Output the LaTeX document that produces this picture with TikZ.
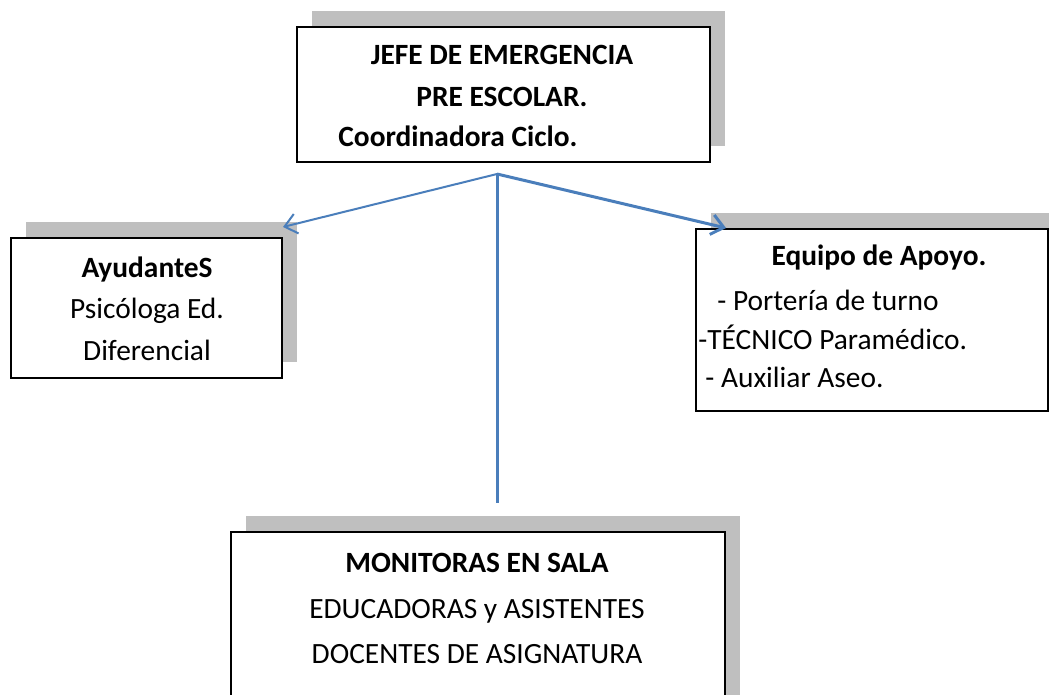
\documentclass[tikz,border=0pt]{standalone}
\usepackage{fontspec}
\setmainfont{Carlito}
\usepackage{tikz}
\usetikzlibrary{arrows.meta,positioning,calc,shadows}
\definecolor{myBlue}{RGB}{74,126,187}
\definecolor{myGray}{RGB}{191,191,191}
\tikzset{
	cbox/.style={
		draw=black,
		fill=white,
		line width=1pt,
		inner sep=0pt,
		drop shadow={shadow xshift=7.5pt, shadow yshift=8pt, fill=myGray, opacity=1}
	},
	ctxt/.style={font=\fontsize{14.7}{17}\selectfont, inner sep=0pt, anchor=base},
	carr/.style={-{Straight Barb[length=6pt, width=10pt]}, myBlue}
}

\begin{document}
\begin{tikzpicture}[x=0.5pt, y=-0.5pt]
		\useasboundingbox (0,0) rectangle (1049,695);
		% cajas
		\node[cbox, minimum width=206.5pt, minimum height=67.5pt] (jefe) at (503.5,94.5) {};
		\node[cbox, minimum width=135.5pt, minimum height=70pt] (ayud) at (146.5,308) {};
		\node[cbox, minimum width=176pt, minimum height=91pt] (equipo) at (872,320) {};
		\node[cbox, minimum width=247pt, minimum height=94pt] (monit) at (478,626) {};
		% textos
		\node[ctxt] (jefeA) at (502,65) {\bfseries JEFE DE EMERGENCIA};
		\node[ctxt] (jefeB) at (502,107) {\bfseries PRE ESCOLAR.};
		\node[ctxt, anchor=base west] (jefeC) at (338,147) {\bfseries Coordinadora Ciclo.};
		\node[ctxt] (ayudA) at (147,278) {\bfseries AyudanteS};
		\node[ctxt] (ayudB) at (147,318) {Psicóloga Ed.};
		\node[ctxt] (ayudC) at (147,360) {Diferencial};
		\node[ctxt] (equipoA) at (879,265) {\bfseries Equipo de Apoyo.};
		\node[ctxt, anchor=base west] (equipoB) at (717,310) {- Portería de turno};
		\node[ctxt, anchor=base west] (equipoC) at (698,350) {-TÉCNICO Paramédico.};
		\node[ctxt, anchor=base west] (equipoD) at (705,387) {- Auxiliar Aseo.};
		\node[ctxt] (monitA) at (477,572) {\bfseries MONITORAS EN SALA};
		\node[ctxt] (monitB) at (477,618) {EDUCADORAS y ASISTENTES};
		\node[ctxt] (monitC) at (477,663) {DOCENTES DE ASIGNATURA};
		% conectores
		\coordinate (origen) at (497,174);
		\coordinate (finV) at (497,503);
		\draw[carr, line width=1pt] (origen) -- ([yshift=5pt]ayud.north east);
		\draw[carr, line width=1.5pt] (origen) -- ([xshift=15.5pt]equipo.north west);
		\draw[myBlue, line width=1.5pt] (origen) -- (finV);
	\end{tikzpicture}
\end{document}
